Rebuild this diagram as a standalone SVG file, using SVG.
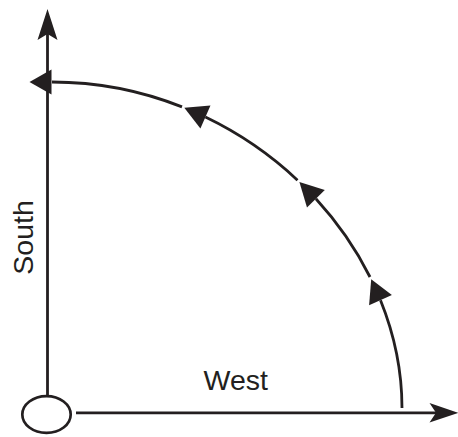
<svg xmlns="http://www.w3.org/2000/svg" width="458" height="437" viewBox="0 0 458 437">
<style>
.ln{fill:none;stroke:#231f20;stroke-width:2.8;stroke-linecap:butt}
.ah{fill:#231f20;stroke:none}
.lbl{font-family:"Liberation Sans",Arial,sans-serif;font-size:28.5px;fill:#231f20}
</style>
<rect width="458" height="437" fill="#ffffff"/>
<g id="origin">
<ellipse cx="46.5" cy="414.5" rx="24.2" ry="18.4" fill="none" stroke="#231f20" stroke-width="2.7"/>
</g>
<g id="connectors">
<g id="axis-south">
<line class="ln" x1="47.5" y1="395.5" x2="47.5" y2="34"/>
<path class="ah" d="M47.5,9 L57.5,40 L47.5,34 L37.5,40 Z"/>
</g>
<g id="axis-west">
<line class="ln" x1="76" y1="412.8" x2="438" y2="412.8"/>
<path class="ah" d="M458.5,412.8 L429.5,403 L436,412.8 L429.5,422.6 Z"/>
</g>
<g id="arc">
<path class="ln" d="M402,408 C402,371.0 394.4,334.6 380.5,300.2"/>
<path class="ah" d="M371.2,279.3 L391.9,295.1 L369.1,305.3 Z"/>
<path class="ln" d="M370.0,277.0 C356.0,249.0 337.7,222.6 315.9,198.8"/>
<path class="ah" d="M299.4,182 L324.8,190.1 L307.0,207.6 Z"/>
<path class="ln" d="M297.5,180.2 C270.7,155.0 239.6,133.5 205.4,117.1"/>
<path class="ah" d="M184.3,107.8 L210.5,105.6 L200.4,128.5 Z"/>
<path class="ln" d="M182.0,106.9 C141.8,90.9 97.9,82 52,82"/>
<path class="ah" d="M29.5,82 L51.5,69.5 L51.5,94.5 Z"/>
</g>
</g>
<g id="labels">
<text class="lbl" x="235.8" y="390" text-anchor="middle">West</text>
<text class="lbl" transform="translate(33.3,237.5) rotate(-90)" text-anchor="middle">South</text>
</g>
</svg>
